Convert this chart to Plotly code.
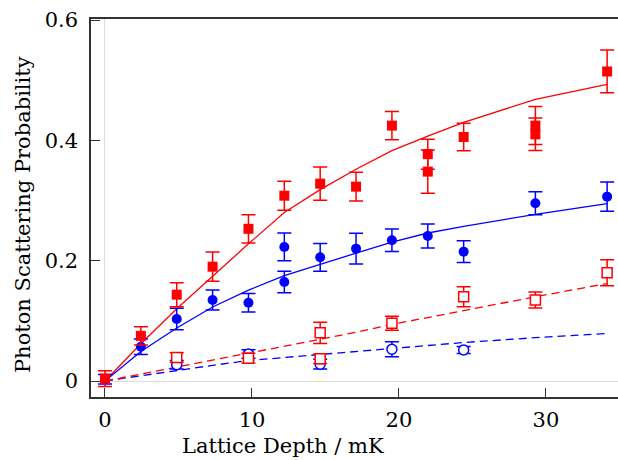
import plotly.graph_objects as go

# ---- data ----
red_x = [0, 2.44, 4.88, 7.32, 9.76, 12.2, 14.64, 17.08, 19.52, 21.96, 21.96, 24.4, 29.28, 29.28, 34.16]
red_y = [0.004, 0.075, 0.1435, 0.19, 0.253, 0.308, 0.328, 0.323, 0.4245, 0.377, 0.348, 0.4056, 0.4245, 0.410, 0.5145]
red_err = [0.013, 0.015, 0.02, 0.0244, 0.0235, 0.024, 0.0275, 0.024, 0.0235, 0.025, 0.036, 0.023, 0.0316, 0.027, 0.0355]

blue_x = [0, 2.44, 4.88, 7.32, 9.76, 12.2, 12.2, 14.64, 17.08, 19.52, 21.96, 24.4, 29.28, 34.16]
blue_y = [0.003, 0.057, 0.103, 0.1347, 0.130, 0.2228, 0.1646, 0.2056, 0.22, 0.234, 0.241, 0.215, 0.2954, 0.3064]
blue_err = [0.008, 0.013, 0.018, 0.0166, 0.0155, 0.023, 0.018, 0.023, 0.0255, 0.0186, 0.02, 0.018, 0.019, 0.0244]

red_open_x = [4.88, 9.76, 14.64, 14.64, 19.52, 24.4, 29.28, 34.16]
red_open_y = [0.039, 0.038, 0.080, 0.037, 0.096, 0.140, 0.1347, 0.180]
red_open_err = [0.008, 0.008, 0.0175, 0.008, 0.0116, 0.0166, 0.0133, 0.0216]

blue_open_x = [4.88, 9.76, 14.64, 19.52, 24.4]
blue_open_y = [0.027, 0.045, 0.028, 0.0527, 0.0515]
blue_open_err = [0.007, 0.007, 0.008, 0.0125, 0.006]

fit_x = [0, 2.44, 4.88, 7.32, 9.76, 12.2, 14.64, 17.08, 19.52, 21.96, 24.4, 29.28, 34.16]
red_fit = [0, 0.062, 0.120, 0.174, 0.228, 0.280, 0.318, 0.352, 0.383, 0.407, 0.430, 0.468, 0.493]
blue_fit = [0, 0.049, 0.088, 0.123, 0.151, 0.175, 0.194, 0.212, 0.231, 0.246, 0.257, 0.277, 0.295]
red_open_fit = [0, 0.0115, 0.0232, 0.035, 0.047, 0.058, 0.069, 0.081, 0.094, 0.105, 0.117, 0.140, 0.162]
blue_open_fit = [0, 0.009, 0.017, 0.026, 0.034, 0.039, 0.044, 0.050, 0.055, 0.060, 0.064, 0.072, 0.079]

x_ticks = [0, 10, 20, 30]
y_ticks = [0, 0.2, 0.4, 0.6]
y_tick_text = ["0", "0.2", "0.4", "0.6"]

RED = "#ff0000"
BLUE = "#0000ff"
FONT = "DejaVu Serif"

fig = go.Figure()

# fit lines
fig.add_trace(go.Scatter(x=fit_x, y=blue_open_fit, mode="lines",
                         line=dict(color=BLUE, width=1.3, dash="8px,5px")))
fig.add_trace(go.Scatter(x=fit_x, y=red_open_fit, mode="lines",
                         line=dict(color=RED, width=1.3, dash="8px,5px")))
fig.add_trace(go.Scatter(x=fit_x, y=blue_fit, mode="lines",
                         line=dict(color=BLUE, width=1.3)))
fig.add_trace(go.Scatter(x=fit_x, y=red_fit, mode="lines",
                         line=dict(color=RED, width=1.3)))

def err(arr, color):
    return dict(type="data", array=arr, visible=True, color=color, thickness=1.5, width=7)

fig.add_trace(go.Scatter(x=blue_open_x, y=blue_open_y, mode="markers",
                         marker=dict(symbol="circle", size=10, color="white",
                                     line=dict(width=1.5, color=BLUE)),
                         error_y=err(blue_open_err, BLUE)))
fig.add_trace(go.Scatter(x=red_open_x, y=red_open_y, mode="markers",
                         marker=dict(symbol="square", size=10, color="white",
                                     line=dict(width=1.5, color=RED)),
                         error_y=err(red_open_err, RED)))
fig.add_trace(go.Scatter(x=blue_x, y=blue_y, mode="markers",
                         marker=dict(symbol="circle", size=10, color=BLUE),
                         error_y=err(blue_err, BLUE)))
fig.add_trace(go.Scatter(x=red_x, y=red_y, mode="markers",
                         marker=dict(symbol="square", size=10, color=RED),
                         error_y=err(red_err, RED)))

fig.update_layout(
    width=618, height=460,
    margin=dict(l=91, r=0, t=19, b=63),
    paper_bgcolor="white", plot_bgcolor="white",
    showlegend=False,
    font=dict(family=FONT, size=21, color="black"),
    xaxis=dict(range=[-0.952, 34.9], tickvals=x_ticks, ticks="inside", ticklen=9,
               tickwidth=1.2, tickcolor="#333", showline=True, linecolor="#333",
               linewidth=1.5, mirror=True, showgrid=False, zeroline=True,
               zerolinecolor="#dcdcdc", zerolinewidth=1, ticklabelstandoff=3),
    yaxis=dict(range=[-0.0266, 0.6017], tickvals=y_ticks, ticktext=y_tick_text,
               ticks="inside", ticklen=9, tickwidth=1.2, tickcolor="#333",
               showline=True, linecolor="#333", linewidth=1.5, mirror=False,
               showgrid=False, zeroline=True, zerolinecolor="#dcdcdc", zerolinewidth=1,
               ticklabelstandoff=7),
    annotations=[
        dict(text="Lattice Depth / mK", xref="paper", yref="paper", x=0.3643, y=-0.1296,
             xanchor="center", yanchor="middle", showarrow=False,
             font=dict(family=FONT, size=21, color="black")),
        dict(text="Photon Scattering Probability", xref="paper", yref="paper", x=-0.129,
             y=0.4815, xanchor="center", yanchor="middle", textangle=-90, showarrow=False,
             font=dict(family=FONT, size=21, color="black")),
    ],
)

fig.write_html("out.html", config={"displayModeBar": False},
               post_script="document.body.style.margin='0';document.body.style.overflow='hidden';")
